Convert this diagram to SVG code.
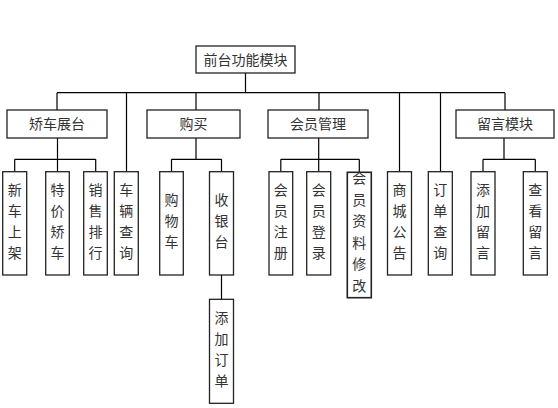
<svg xmlns="http://www.w3.org/2000/svg" width="558" height="408" viewBox="0 0 558 408">
<style>
.box{fill:#fff;stroke:#222;stroke-width:1.3}
.ln{fill:none;stroke:#000;stroke-width:1.2}
text{font-family:"Noto Sans CJK SC","Noto Sans CJK JP",sans-serif;font-size:14px;fill:#333;text-anchor:middle}
</style>
<rect width="558" height="408" fill="#fff"/>
<g id="connectors">
<path class="ln" d="M245.5 73V92.7M57 92.7H505M57 92.7V110M126.5 92.7V171.7M196 92.7V110M319 92.7V110M399.5 92.7V171.7M440.5 92.7V171.7M505 92.7V110"/>
<path class="ln" d="M57.5 138V171.7M14.7 159.3H95.7M14.7 159.3V171.7M95.7 159.3V171.7"/>
<path class="ln" d="M196 138V159.3M171.5 159.3H221.5M171.5 159.3V171.7M221.5 159.3V171.7M221.5 275V299.3"/>
<path class="ln" d="M318.7 138V171.7M280.8 159.3H359.3M280.8 159.3V171.7M359.3 159.3V172.3"/>
<path class="ln" d="M504 138V159.3M483 159.3H535.3M483 159.3V171.7M535.3 159.3V171.7"/>
</g>
<g id="n-root"><rect class="box" x="196" y="46" width="99" height="27"/><text x="245.5" y="65">前台功能模块</text></g>
<g id="n-jiaoche"><rect class="box" x="7" y="110" width="100" height="28"/><text x="57" y="129">矫车展台</text></g>
<g id="n-goumai"><rect class="box" x="147" y="110" width="93" height="28"/><text x="193.5" y="129">购买</text></g>
<g id="n-huiyuan"><rect class="box" x="268" y="110" width="100" height="28"/><text x="318" y="129">会员管理</text></g>
<g id="n-liuyan"><rect class="box" x="456" y="110" width="98" height="28"/><text x="505" y="129">留言模块</text></g>

<g id="n-xinche"><rect class="box" x="2.7" y="171.7" width="24" height="103.3"/><text x="14.7"><tspan x="14.7" y="195">新</tspan><tspan x="14.7" y="216">车</tspan><tspan x="14.7" y="237">上</tspan><tspan x="14.7" y="258">架</tspan></text></g>
<g id="n-tejia"><rect class="box" x="45.7" y="171.7" width="23.6" height="103.3"/><text x="57.5"><tspan x="57.5" y="195">特</tspan><tspan x="57.5" y="216">价</tspan><tspan x="57.5" y="237">矫</tspan><tspan x="57.5" y="258">车</tspan></text></g>
<g id="n-xiaoshou"><rect class="box" x="83.7" y="171.7" width="23.6" height="103.3"/><text x="95.5"><tspan x="95.5" y="195">销</tspan><tspan x="95.5" y="216">售</tspan><tspan x="95.5" y="237">排</tspan><tspan x="95.5" y="258">行</tspan></text></g>
<g id="n-cheliang"><rect class="box" x="114.3" y="171.7" width="24" height="103.3"/><text x="126.3"><tspan x="126.3" y="195">车</tspan><tspan x="126.3" y="216">辆</tspan><tspan x="126.3" y="237">查</tspan><tspan x="126.3" y="258">询</tspan></text></g>
<g id="n-gouwuche"><rect class="box" x="159.7" y="171.7" width="23.6" height="103.3"/><text x="171.5"><tspan x="171.5" y="205">购</tspan><tspan x="171.5" y="226">物</tspan><tspan x="171.5" y="247">车</tspan></text></g>
<g id="n-shouyintai"><rect class="box" x="209.5" y="171.7" width="24" height="103.3"/><text x="221.5"><tspan x="221.5" y="205">收</tspan><tspan x="221.5" y="226">银</tspan><tspan x="221.5" y="247">台</tspan></text></g>
<g id="n-tianjiadingdan"><rect class="box" x="209.5" y="299.3" width="24" height="104"/><text x="221.5"><tspan x="221.5" y="323">添</tspan><tspan x="221.5" y="344">加</tspan><tspan x="221.5" y="365">订</tspan><tspan x="221.5" y="386">单</tspan></text></g>
<g id="n-zhuce"><rect class="box" x="269" y="171.7" width="23.7" height="103.3"/><text x="280.8"><tspan x="280.8" y="195">会</tspan><tspan x="280.8" y="216">员</tspan><tspan x="280.8" y="237">注</tspan><tspan x="280.8" y="258">册</tspan></text></g>
<g id="n-denglu"><rect class="box" x="306.7" y="171.7" width="24" height="103.3"/><text x="318.7"><tspan x="318.7" y="195">会</tspan><tspan x="318.7" y="216">员</tspan><tspan x="318.7" y="237">登</tspan><tspan x="318.7" y="258">录</tspan></text></g>
<g id="n-ziliao"><rect class="box" x="347.3" y="172.3" width="24" height="125.4" style="stroke-width:1.6"/><text x="359.3"><tspan x="359.3" y="183">会</tspan><tspan x="359.3" y="204.5">员</tspan><tspan x="359.3" y="226">资</tspan><tspan x="359.3" y="247.5">料</tspan><tspan x="359.3" y="269">修</tspan><tspan x="359.3" y="290.5">改</tspan></text></g>
<g id="n-gonggao"><rect class="box" x="387.5" y="171.7" width="24" height="103.3"/><text x="399.5"><tspan x="399.5" y="195">商</tspan><tspan x="399.5" y="216">城</tspan><tspan x="399.5" y="237">公</tspan><tspan x="399.5" y="258">告</tspan></text></g>
<g id="n-dingdan"><rect class="box" x="428.3" y="171.7" width="24" height="103.3"/><text x="440.3"><tspan x="440.3" y="195">订</tspan><tspan x="440.3" y="216">单</tspan><tspan x="440.3" y="237">查</tspan><tspan x="440.3" y="258">询</tspan></text></g>
<g id="n-tianjialiuyan"><rect class="box" x="471" y="171.7" width="24" height="103.3"/><text x="483"><tspan x="483" y="195">添</tspan><tspan x="483" y="216">加</tspan><tspan x="483" y="237">留</tspan><tspan x="483" y="258">言</tspan></text></g>
<g id="n-chakan"><rect class="box" x="523.3" y="171.7" width="24" height="103.3"/><text x="535.3"><tspan x="535.3" y="195">查</tspan><tspan x="535.3" y="216">看</tspan><tspan x="535.3" y="237">留</tspan><tspan x="535.3" y="258">言</tspan></text></g>
</svg>
